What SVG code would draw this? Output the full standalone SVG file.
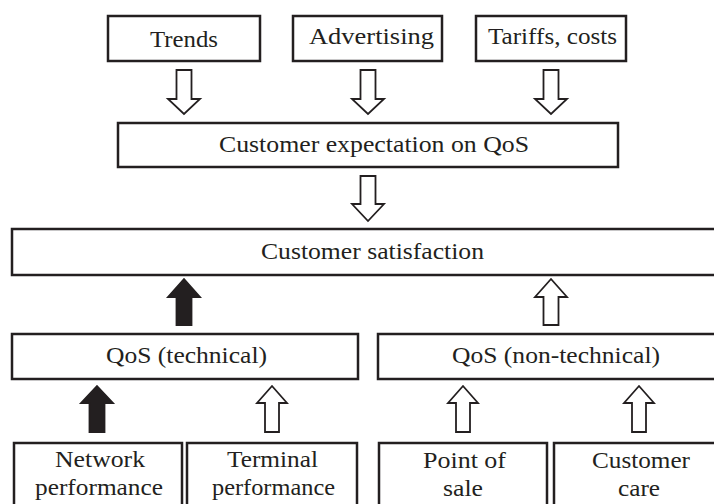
<svg xmlns="http://www.w3.org/2000/svg" width="714" height="504" viewBox="0 0 714 504">
<style>
.box{fill:#fff;stroke:#231f20;stroke-width:2.5}
.t{font-family:"Liberation Serif","Times New Roman",serif;font-size:23px;fill:#231f20}
.aw{fill:#fff;stroke:#231f20;stroke-width:1.8;stroke-linejoin:miter}
.ab{fill:#231f20;stroke:#231f20;stroke-width:1.8;stroke-linejoin:miter}
</style>
<rect width="714" height="504" fill="#fff"/>
<g id="trends"><rect class="box" x="108" y="16" width="152" height="45"/><text class="t" x="150" y="47" textLength="68" lengthAdjust="spacingAndGlyphs">Trends</text></g>
<g id="advertising"><rect class="box" x="293" y="16" width="149" height="45"/><text class="t" x="309" y="44" textLength="125" lengthAdjust="spacingAndGlyphs">Advertising</text></g>
<g id="tariffs"><rect class="box" x="476" y="16" width="150" height="45"/><text class="t" x="488" y="44" textLength="129" lengthAdjust="spacingAndGlyphs">Tariffs, costs</text></g>
<g id="expectation"><rect class="box" x="118" y="123" width="500" height="44"/><text class="t" x="219" y="152" textLength="310" lengthAdjust="spacingAndGlyphs">Customer expectation on QoS</text></g>
<g id="satisfaction"><rect class="box" x="12" y="229" width="720" height="46"/><text class="t" x="261" y="259" textLength="223" lengthAdjust="spacingAndGlyphs">Customer satisfaction</text></g>
<g id="qos-technical"><rect class="box" x="12" y="334" width="346" height="45"/><text class="t" x="106" y="363" textLength="161" lengthAdjust="spacingAndGlyphs">QoS (technical)</text></g>
<g id="qos-nontechnical"><rect class="box" x="378" y="334" width="360" height="45"/><text class="t" x="452" y="363" textLength="208" lengthAdjust="spacingAndGlyphs">QoS (non-technical)</text></g>
<g id="network"><rect class="box" x="14" y="443" width="168" height="80"/><text class="t" x="55" y="467" textLength="90" lengthAdjust="spacingAndGlyphs">Network</text><text class="t" x="35" y="495" textLength="128" lengthAdjust="spacingAndGlyphs">performance</text></g>
<g id="terminal"><rect class="box" x="187" y="443" width="170" height="80"/><text class="t" x="227" y="467" textLength="91" lengthAdjust="spacingAndGlyphs">Terminal</text><text class="t" x="212" y="495" textLength="123" lengthAdjust="spacingAndGlyphs">performance</text></g>
<g id="pointofsale"><rect class="box" x="379" y="443" width="168" height="80"/><text class="t" x="423" y="468" textLength="83" lengthAdjust="spacingAndGlyphs">Point of</text><text class="t" x="443" y="496" textLength="40" lengthAdjust="spacingAndGlyphs">sale</text></g>
<g id="customercare"><rect class="box" x="554" y="443" width="200" height="80"/><text class="t" x="592" y="468" textLength="98" lengthAdjust="spacingAndGlyphs">Customer</text><text class="t" x="618" y="496" textLength="42" lengthAdjust="spacingAndGlyphs">care</text></g>
<g id="connectors">
<path class="aw" d="M176.5,70 H191.5 V99 H200 L184,114 L168,99 H176.5 Z"/>
<path class="aw" d="M360.5,70 H375.5 V99 H384 L368,114 L352,99 H360.5 Z"/>
<path class="aw" d="M543.5,70 H558.5 V99 H567 L551,114 L535,99 H543.5 Z"/>
<path class="aw" d="M360.5,176 H375.5 V204 H384 L368,221 L352,204 H360.5 Z"/>
<path class="ab" d="M184,279 L200,297 H191.5 V325 H176.5 V297 H168 Z"/>
<path class="aw" d="M551,279 L567,297 H558.5 V325 H543.5 V297 H535 Z"/>
<path class="ab" d="M97,386 L113,403 H104.5 V432 H89.5 V403 H81 Z"/>
<path class="aw" d="M272,386 L287,403 H279 V432 H265 V403 H257 Z"/>
<path class="aw" d="M463,386 L478,403 H470 V432 H456 V403 H448 Z"/>
<path class="aw" d="M639,386 L654,403 H646 V432 H632 V403 H624 Z"/>
</g>
</svg>
